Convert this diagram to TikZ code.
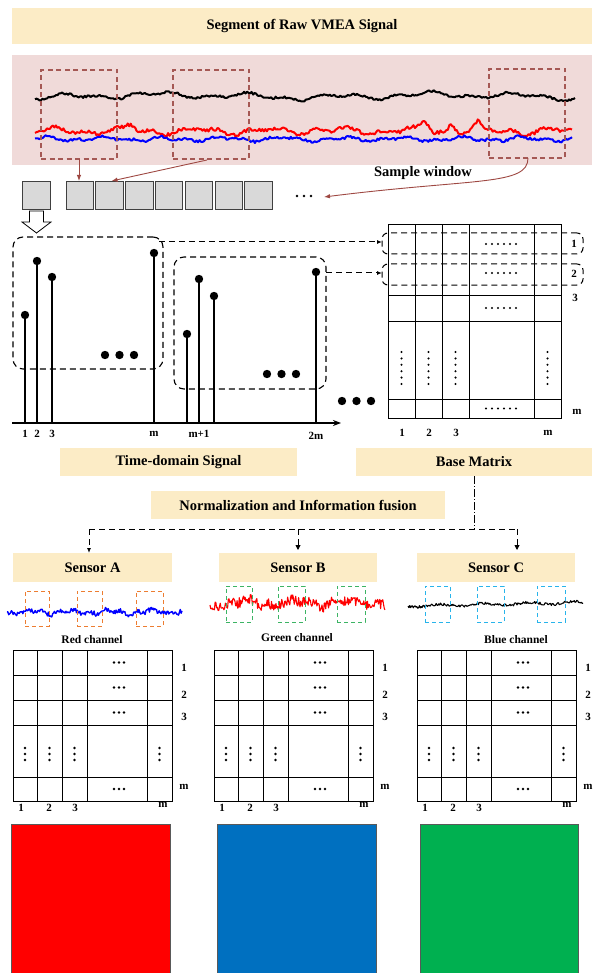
\documentclass[tikz,border=0pt]{standalone}
\usepackage{fontspec}
\setmainfont{Liberation Serif}
\usetikzlibrary{arrows.meta,calc}
\definecolor{barc}{RGB}{252,236,198}
\definecolor{pinkc}{RGB}{240,218,217}
\definecolor{winc}{RGB}{165,88,84}
\definecolor{arrc}{RGB}{158,72,66}
\definecolor{sqc}{RGB}{217,217,217}
\definecolor{orc}{RGB}{237,125,49}
\definecolor{grc}{RGB}{60,180,100}
\definecolor{cyc}{RGB}{40,180,235}
\definecolor{redsq}{RGB}{255,0,0}
\definecolor{bluesq}{RGB}{0,112,192}
\definecolor{greensq}{RGB}{0,176,80}
\definecolor{sigblue}{RGB}{0,0,255}
\definecolor{sigred}{RGB}{255,0,0}
\newcommand\bnode[7]{\node[#1,minimum width={(#5)-(#3)},minimum height={(#6)-(#4)},inner sep=0pt,outer sep=0pt] (#2) at ({((#3)+(#5))/2},{((#4)+(#6))/2}) {#7};}
\newcommand\hdotrow[3]{\foreach \dd in {-5,0,5} \fill ({#1+\dd},#2) circle (#3);}
\newcommand\vdotcol[3]{\foreach \dd in {-6,0,6} \fill (#1,{#2+\dd}) circle (#3);}
\newcommand\smatrix[2]{%
 \begin{scope}[shift={(#1,0)}]
  \foreach \c in {24,49,74,134} \draw[mline] (\c,650) -- (\c,801);
  \foreach \r in {675,700,725,777} \draw[mline] (0,\r) -- (159,\r);
  \draw[mline] (0,650) rectangle (159,801);
  \foreach \yy in {662.5,687.5,712.5,789} {\hdotrow{106}{\yy}{1.3}}
  \foreach \xx in {12,36.5,61.5,146.5} {\vdotcol{\xx}{754}{1.3}}
  \node[smalltxt] (#2r1) at (171,668) {1};
  \node[smalltxt] (#2r2) at (171,695) {2};
  \node[smalltxt] (#2r3) at (171,717) {3};
  \node[smalltxt] (#2rm) at (171,787) {m};
  \node[smalltxt] (#2c1) at (8,808) {1};
  \node[smalltxt] (#2c2) at (36,808) {2};
  \node[smalltxt] (#2c3) at (62,808) {3};
  \node[smalltxt] (#2cm) at (150,805) {m};
 \end{scope}}
\begin{document}
\begin{tikzpicture}[x=1pt,y=-1pt,
  bar/.style={fill=barc,font=\bfseries\fontsize{14.5}{16}\selectfont},
  win/.style={draw=winc,dash pattern=on 5pt off 3.5pt,line width=1.1pt},
  sqbox/.style={draw=black!75,fill=sqc,line width=0.9pt},
  brarrow/.style={draw=arrc,line width=0.9pt,-{Latex[length=6,width=4.5]}},
  tdbox/.style={draw=black,dash pattern=on 6pt off 4pt,line width=1.1pt,rounded corners=10pt},
  brace/.style={draw=black,dash pattern=on 6pt off 4pt,line width=1pt,rounded corners=6pt},
  dconn/.style={draw=black,dash pattern=on 6pt off 4pt,line width=1pt,-{Latex[length=5,width=4]}},
  stem/.style={line width=1.2pt},
  mline/.style={line width=1pt},
  smalltxt/.style={font=\bfseries\fontsize{11}{12}\selectfont,inner sep=0pt},
  chtxt/.style={font=\bfseries\fontsize{11.5}{13}\selectfont,inner sep=0pt},
  bigtxt/.style={font=\bfseries\fontsize{14.5}{16}\selectfont,inner sep=0pt},
  sbox/.style={dash pattern=on 4pt off 3pt,line width=1pt},
  colsq/.style={draw=black!65,line width=0.8pt}]
\useasboundingbox (0,0) rectangle (592,973);

% ---------- top ----------
\bnode{bar}{title}{12}{8}{592}{44}{Segment of Raw VMEA Signal}
\bnode{fill=pinkc}{pinkarea}{12}{55}{592}{165}{}

\pgfmathsetseed{7}
\draw[black,line width=2pt,line join=round] plot[domain=35:575,samples=360] (\x,{96+2.2*sin(4*\x)+1.6*sin(9.7*\x+30)+1.3*sin(1.3*\x+50)+1.1*rand});
\pgfmathsetseed{11}
\draw[sigred,line width=2pt,line join=round] plot[domain=35:572,samples=360] (\x,{131+2.4*sin(5*\x)+1.8*sin(11*\x+40)+1.8*rand-10*max(0,1-abs(\x-425)/9)-8*max(0,1-abs(\x-452)/7)-8*max(0,1-abs(\x-478)/7)-5*max(0,1-abs(\x-130)/8)-4*max(0,1-abs(\x-315)/6)});
\pgfmathsetseed{23}
\draw[sigblue,line width=2pt,line join=round] plot[domain=35:572,samples=360] (\x,{139+1.6*sin(6*\x+10)+1.2*sin(13*\x)+1.3*rand});

\bnode{win}{w1}{41}{70}{117}{159}{}
\bnode{win}{w2}{173}{70}{249}{159}{}
\bnode{win}{w3}{489}{69}{565}{158}{}

\bnode{sqbox}{sq0}{22}{181}{50}{209}{}
\foreach \i in {0,...,6} {
  \pgfmathsetmacro\xa{66+29.8*\i}
  \pgfmathsetmacro\xb{\xa+27.5}
  \bnode{sqbox}{sq\i a}{\xa}{181}{\xb}{209}{}
}
\foreach \xx in {297,304,311} \fill (\xx,196) circle (1.4);
\coordinate (dotsend) at (324,197);

\coordinate (w1s) at (79,159);
\coordinate (w2s) at (207,160);
\coordinate (w3s) at (528,158);
\draw[brarrow] (w1s) -- (w1s |- sq0a.north);
\draw[brarrow] (w2s) -- ($(sq1a.north)+(2,0)$);
\draw[brarrow] (w3s) .. controls (528,186) and (475,178) .. (dotsend);
\node[bigtxt] (sw) at (423,173) {Sample window};

% block arrow
\draw[fill=white,line width=0.8pt] (29.5,211) -- (43.5,211) -- (43.5,222) -- (51,222) -- (36.5,233) -- (22,222) -- (29.5,222) -- cycle;

% ---------- time-domain ----------
\bnode{tdbox}{tb1}{13}{237}{163}{369}{}
\bnode{tdbox}{tb2}{174}{257}{326}{389}{}
\coordinate (ax0) at (12,423);
\coordinate (ax1) at (341,423);
\draw[line width=1.5pt,-{Stealth[length=8,width=6]}] (ax0) -- (ax1);
\foreach \x/\t in {25/315,37/261,52/277,154/253,187/334,199/279,214/296,316/272} {
  \draw[stem] (\x,423) -- (\x,\t);
  \fill (\x,\t) circle (4.2);
}
\foreach \x in {105,119.5,134} \fill (\x,355) circle (4.2);
\foreach \x in {267,281.5,296} \fill (\x,374) circle (4.2);
\foreach \x in {342,356.5,371} \fill (\x,401) circle (4.2);
\node[smalltxt] (l1) at (25,434) {1};
\node[smalltxt] (l2) at (37,434) {2};
\node[smalltxt] (l3) at (52,434) {3};
\node[smalltxt] (lm) at (154,434) {m};
\node[smalltxt] (lm1) at (199,434) {m+1};
\node[smalltxt] (l2m) at (316,436) {2m};

% ---------- base matrix ----------
\foreach \c in {415,442,469,534} \draw[mline] (\c,225) -- (\c,418);
\foreach \r in {295,321,399} \draw[mline] (388,\r) -- (561,\r);
\draw[mline] (388,225) rectangle (561,418);
\foreach \yy in {244,273,308,408.5} \foreach \dd in {-15,-9,-3,3,9,15} \fill ({501+\dd},\yy) circle (1.15);
\foreach \xx in {401.5,428.5,455.5,547.5} \foreach \dd in {0,...,5} \fill (\xx,{352+6.4*\dd}) circle (1.15);
\bnode{brace}{br1}{382}{233}{583}{254}{}
\bnode{brace}{br2}{382}{264}{583}{285}{}
\node[smalltxt] (bm1) at (574,244) {1};
\node[smalltxt] (bm2) at (574,274) {2};
\node[smalltxt] (bm3) at (575,298) {3};
\node[smalltxt] (bmm) at (577,412) {m};
\node[smalltxt] (bc1) at (402,433) {1};
\node[smalltxt] (bc2) at (429,433) {2};
\node[smalltxt] (bc3) at (456,433) {3};
\node[smalltxt] (bcm) at (548,433) {m};
\coordinate (c1) at (159,242);
\coordinate (c2) at (326,273);
\draw[dconn] (c1) -- (c1 -| br1.west);
\draw[dconn] (c2) -- (c2 -| br2.west);

% ---------- labels ----------
\bnode{bar}{tds}{60}{448}{297}{476}{Time-domain Signal}
\bnode{bar}{bmx}{356}{448}{592}{476}{Base Matrix}
\bnode{bar}{nif}{151}{491}{445}{519}{Normalization and Information fusion}
\coordinate (jn) at (474,529);
\coordinate (ja) at (89,529);
\coordinate (jb) at (298,529);
\coordinate (jc) at (517,529);
\draw[line width=0.9pt,dash pattern=on 8pt off 2pt on 1pt off 2pt] (bmx.south) -- (jn);
\draw[line width=0.9pt,dash pattern=on 6pt off 4pt] (ja) -- (jc);
\bnode{bar}{sa}{13}{553}{172}{582}{Sensor A}
\bnode{bar}{sb}{219}{553}{377}{582}{Sensor B}
\bnode{bar}{sc}{417}{553}{575}{582}{Sensor C}
\draw[line width=0.9pt,dash pattern=on 6pt off 4pt,-{Latex[length=5,width=4]}] (ja) -- (ja |- sa.north);
\draw[line width=0.9pt,dash pattern=on 6pt off 4pt,-{Triangle[length=5,width=5]}] (jb) -- ($(jb |- sb.north)+(0,-3)$);
\draw[line width=0.9pt,dash pattern=on 6pt off 4pt,-{Triangle[length=5,width=5]}] (jc) -- ($(jc |- sc.north)+(0,-3)$);

% sensor signals
\pgfmathsetseed{31}
\draw[sigblue,line width=1.4pt,line join=round] plot[domain=7:182,samples=200] (\x,{612+1.6*sin(9*\x)+1.2*sin(23*\x)+2.4*rand});
\pgfmathsetseed{41}
\draw[sigred,line width=1.1pt,line join=round] plot[domain=210:385,samples=240] (\x,{603+2.5*sin(7*\x)+1.5*sin(17*\x)+5.5*rand});
\pgfmathsetseed{53}
\draw[black,line width=1.1pt,line join=round] plot[domain=408:583,samples=200] (\x,{606-0.02*(\x-408)+1.2*sin(8*\x)+1.3*rand});
\bnode{sbox,draw=orc}{oa1}{25}{591}{49}{626}{}
\bnode{sbox,draw=orc}{oa2}{77}{591}{102}{626}{}
\bnode{sbox,draw=orc}{oa3}{136}{591}{163}{626}{}
\bnode{sbox,draw=grc}{gb1}{226}{586}{252}{622}{}
\bnode{sbox,draw=grc}{gb2}{278}{586}{305}{622}{}
\bnode{sbox,draw=grc}{gb3}{337}{586}{365}{622}{}
\bnode{sbox,draw=cyc}{cc1}{425}{586}{450}{622}{}
\bnode{sbox,draw=cyc}{cc2}{477}{586}{504}{622}{}
\bnode{sbox,draw=cyc}{cc3}{537}{586}{565}{622}{}
\node[chtxt] (rch) at (92,640) {Red channel};
\node[chtxt] (gch) at (297,638) {Green channel};
\node[chtxt] (bch) at (516,640) {Blue channel};

% matrices
\smatrix{13}{ma}
\smatrix{214}{mb}
\smatrix{417}{mc}

% colour squares
\bnode{colsq,fill=redsq}{pr}{11}{824}{170}{985}{}
\bnode{colsq,fill=bluesq}{pb}{217}{824}{376}{985}{}
\bnode{colsq,fill=greensq}{pg}{420}{824}{578}{985}{}
\end{tikzpicture}
\end{document}
